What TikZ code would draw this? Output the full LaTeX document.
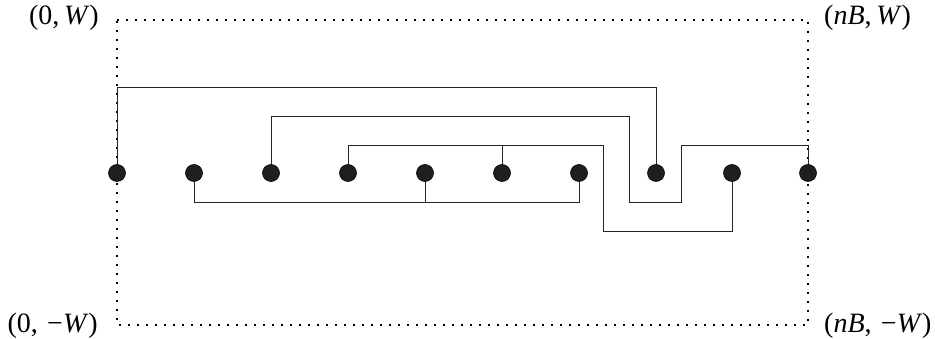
\documentclass[tikz,border=0pt]{standalone}
\usepackage{fontspec}
\setmainfont{Liberation Serif}
\usetikzlibrary{backgrounds}
\begin{document}
\begin{tikzpicture}[x=1pt,y=-1pt,
  dot/.style={circle,draw=black,fill=black!88,line width=0.6pt,minimum size=17pt,inner sep=0pt},
  wire/.style={line width=0.9pt,black!85},
  frame/.style={line width=1.9pt,line cap=butt,dash pattern=on 1.9pt off 7.1pt},
  lab/.style={font=\fontsize{28}{32}\selectfont,inner sep=0pt}]
\useasboundingbox (0,0) rectangle (935,339);
\foreach \i/\x in {1/117,2/194,3/271,4/348,5/425,6/502,7/579,8/656,9/732,10/808}
  \node[dot] (n\i) at (\x,173) {};
\coordinate (tl) at (117,20);
\coordinate (tr) at (808,20);
\coordinate (bl) at (117,325);
\coordinate (br) at (808,325);
\node[lab,anchor=base east] (ltl) at (99,25) {(0,\,\textit{W})};
\node[lab,anchor=base west] (ltr) at (824,25) {(\textit{nB},\,\textit{W})};
\node[lab,anchor=base east] (lbl) at (98,332) {(0,\,\,−\textit{W})};
\node[lab,anchor=base west] (lbr) at (824,332) {(\textit{nB},\,\,−\textit{W})};
\begin{pgfonlayer}{background}
\draw[frame] (tl) -- (tr) -- (br) -- (bl) -- cycle;
\draw[wire] (n1.center) -- (n1.center |- {(0,87)}) -| (n8.center);
\draw[wire] (n3.center) -- (n3.center |- {(0,116)}) -| (629,202) -| (681,145) -| (n10.center);
\draw[wire] (n4.center) -- (n4.center |- {(0,145)}) -| (603,231) -| (n9.center);
\draw[wire] (n6.center) -- (n6.center |- {(0,145)});
\draw[wire] (n2.center) -- (n2.center |- {(0,202)}) -| (n7.center);
\draw[wire] (n5.center) -- (n5.center |- {(0,202)});
\end{pgfonlayer}
\end{tikzpicture}
\end{document}
